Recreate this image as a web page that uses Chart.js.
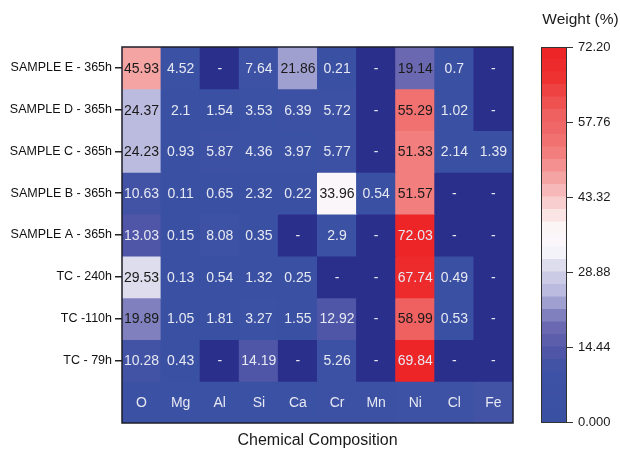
<!DOCTYPE html>
<html lang="en">
<head>
<meta charset="UTF-8">
<title>Chemical Composition Heatmap</title>
<script src="https://cdn.jsdelivr.net/npm/chart.js"></script>
<style>
  body { margin: 0; background: #fff; }
  #wrap { position: relative; width: 620px; height: 454px; }
  #heat { position: absolute; left: 0; top: 0; }
  #scale { position: absolute; left: 520px; top: 0; }
</style>
</head>
<body>
<div id="wrap">
  <canvas id="heat" width="520" height="454"></canvas>
  <canvas id="scale" width="100" height="454"></canvas>
</div>
<script>
// columns and rows
const elements = ['O', 'Mg', 'Al', 'Si', 'Ca', 'Cr', 'Mn', 'Ni', 'Cl', 'Fe'];
const samples = ['SAMPLE E - 365h', 'SAMPLE D - 365h', 'SAMPLE C - 365h', 'SAMPLE B - 365h',
                 'SAMPLE A - 365h', 'TC - 240h', 'TC -110h', 'TC - 79h'];

// weight % per element (null = not detected, shown as "-")
const sampleE = [45.93, 4.52, null, 7.64, 21.86, 0.21, null, 19.14, 0.7, null];
const sampleD = [24.37, 2.1, 1.54, 3.53, 6.39, 5.72, null, 55.29, 1.02, null];
const sampleC = [24.23, 0.93, 5.87, 4.36, 3.97, 5.77, null, 51.33, 2.14, 1.39];
const sampleB = [10.63, 0.11, 0.65, 2.32, 0.22, 33.96, 0.54, 51.57, null, null];
const sampleA = [13.03, 0.15, 8.08, 0.35, null, 2.9, null, 72.03, null, null];
const tc240 = [29.53, 0.13, 0.54, 1.32, 0.25, null, null, 67.74, 0.49, null];
const tc110 = [19.89, 1.05, 1.81, 3.27, 1.55, 12.92, null, 58.99, 0.53, null];
const tc79 = [10.28, 0.43, null, 14.19, null, 5.26, null, 69.84, null, null];
// shading of the bottom row that carries the element names
const labelRowShade = [3, 3, 3, 3, 4, 5, 7, 8, 9, 10];

// colour scale
const weightTicks = [0, 14.44, 28.88, 43.32, 57.76, 72.20];
const weightTickLabels = ['0.000', '14.44', '28.88', '43.32', '57.76', '72.20'];
const weightMax = 72.2;
const bands = 30;

const FONT = '"Liberation Sans", Arial, Helvetica, sans-serif';
const NAVY = 'rgb(43,47,140)';
// colour stops along the weight axis
const stops = [
  [0, [57, 80, 163]], [10, [62, 82, 164]], [14.4, [85, 88, 168]], [19, [110, 108, 178]],
  [22, [150, 150, 202]], [25, [185, 185, 222]], [29.5, [215, 215, 234]], [33, [248, 248, 252]],
  [38, [253, 244, 244]], [45, [246, 180, 180]], [51, [243, 130, 130]], [55, [240, 108, 108]],
  [59, [239, 96, 96]], [66, [238, 50, 50]], [72.2, [237, 34, 36]]
];
function rampColor(v) {
  for (let k = 1; k < stops.length; k++) {
    if (v <= stops[k][0]) {
      const [v0, c0] = stops[k - 1], [v1, c1] = stops[k];
      const f = (v - v0) / (v1 - v0);
      return 'rgb(' + c0.map((c, n) => Math.round(c + (c1[n] - c) * f)).join(',') + ')';
    }
  }
  return 'rgb(237,34,36)';
}
function weightColor(v) {
  if (v == null) return NAVY;
  const size = weightMax / bands;
  const i = Math.min(bands - 1, Math.floor(v / size));
  return rampColor((i + 0.5) * size);
}

const rows = [sampleE, sampleD, sampleC, sampleB, sampleA, tc240, tc110, tc79];
const datasets = rows.map((vals, r) => {
  const base = rows.length - r;
  return {
    label: samples[r],
    data: vals.map((v, j) => ({ x: elements[j], y: [base, base + 1], v: v,
                                text: v == null ? '-' : String(v) })),
    backgroundColor: ctx => weightColor(ctx.raw.v)
  };
});
datasets.push({
  label: 'elements',
  data: labelRowShade.map((v, j) => ({ x: elements[j], y: [0, 1], v: v, text: elements[j] })),
  backgroundColor: ctx => weightColor(ctx.raw.v)
});

const cellText = {
  id: 'cellText',
  afterDatasetsDraw(chart) {
    const { ctx, chartArea: a } = chart;
    ctx.save();
    ctx.font = '14px ' + FONT;
    ctx.textAlign = 'center';
    ctx.textBaseline = 'middle';
    chart.data.datasets.forEach((ds, i) => {
      chart.getDatasetMeta(i).data.forEach((bar, j) => {
        const raw = ds.data[j];
        const p = bar.getCenterPoint();
        const dark = raw.text !== '-' && raw.y[0] > 0 && raw.v > 16 && raw.v < 62;
        ctx.fillStyle = dark ? '#1a1a1a' : '#e6e8f2';
        ctx.fillText(raw.text, p.x, p.y + 1);
      });
    });
    ctx.strokeStyle = '#1e1e28';
    ctx.lineWidth = 1.5;
    ctx.strokeRect(a.left, a.top, a.right - a.left, a.bottom - a.top);
    ctx.restore();
  }
};

new Chart(document.getElementById('heat'), {
  type: 'bar',
  data: { labels: elements, datasets: datasets },
  options: {
    responsive: false,
    animation: false,
    layout: { padding: { left: 0, right: 7, top: 47, bottom: 0 } },
    datasets: { bar: { grouped: false, barPercentage: 1, categoryPercentage: 1, borderWidth: 0, inflateAmount: 0.5 } },
    plugins: { legend: { display: false }, tooltip: { enabled: false } },
    scales: {
      x: {
        type: 'category',
        grid: { display: false },
        border: { display: false },
        ticks: { display: false },
        title: { display: true, text: 'Chemical Composition', color: '#1a1a1a',
                 font: { family: FONT, size: 16 }, padding: { top: 0, bottom: 4 } },
        afterFit: s => { s.height = 31; }
      },
      y: {
        type: 'linear', min: 0, max: 9,
        afterBuildTicks: s => { s.ticks = samples.map((_, i) => ({ value: 8.5 - i })); },
        ticks: { callback: v => samples[Math.round(8.5 - v)], color: '#111',
                 font: { family: FONT, size: 12.5 }, padding: 3 },
        grid: { drawOnChartArea: false, drawTicks: true, tickLength: 7, color: '#222', lineWidth: 1.5 },
        border: { display: false },
        afterFit: s => { s.width = 122; }
      }
    }
  },
  plugins: [cellText]
});

// colour bar
const bandSize = weightMax / bands;
const bandSets = [];
for (let i = 0; i < bands; i++) {
  bandSets.push({ data: [bandSize], backgroundColor: rampColor((i + 0.5) * bandSize), stack: 'cb' });
}
const frame = {
  id: 'frame',
  afterDatasetsDraw(chart) {
    const { ctx, chartArea: a } = chart;
    ctx.save();
    ctx.strokeStyle = '#333';
    ctx.lineWidth = 1;
    ctx.strokeRect(a.left + 0.5, a.top + 0.5, a.right - a.left - 1, a.bottom - a.top);
    ctx.restore();
  }
};
new Chart(document.getElementById('scale'), {
  type: 'bar',
  data: { labels: ['w'], datasets: bandSets },
  options: {
    responsive: false,
    animation: false,
    layout: { padding: { left: 21, right: 0, top: 0, bottom: 32 } },
    datasets: { bar: { barPercentage: 1, categoryPercentage: 1, borderWidth: 0, inflateAmount: 0.5 } },
    plugins: {
      legend: { display: false }, tooltip: { enabled: false },
      title: { display: true, text: 'Weight (%)', color: '#1a1a1a',
               font: { family: FONT, size: 15.5, weight: 'normal' }, padding: { top: 10, bottom: 18.4 } }
    },
    scales: {
      x: { display: false, stacked: true },
      y: {
        position: 'right', stacked: true, min: 0, max: weightMax,
        afterBuildTicks: s => { s.ticks = weightTicks.map(v => ({ value: v })); },
        ticks: { callback: (v, i) => weightTickLabels[i], color: '#1a1a1a',
                 font: { family: FONT, size: 13 }, padding: 5 },
        grid: { drawOnChartArea: false, drawTicks: true, tickLength: 6, color: '#333' },
        border: { display: false },
        afterFit: s => { s.width = 53; }
      }
    }
  },
  plugins: [frame]
});
</script>
</body>
</html>
